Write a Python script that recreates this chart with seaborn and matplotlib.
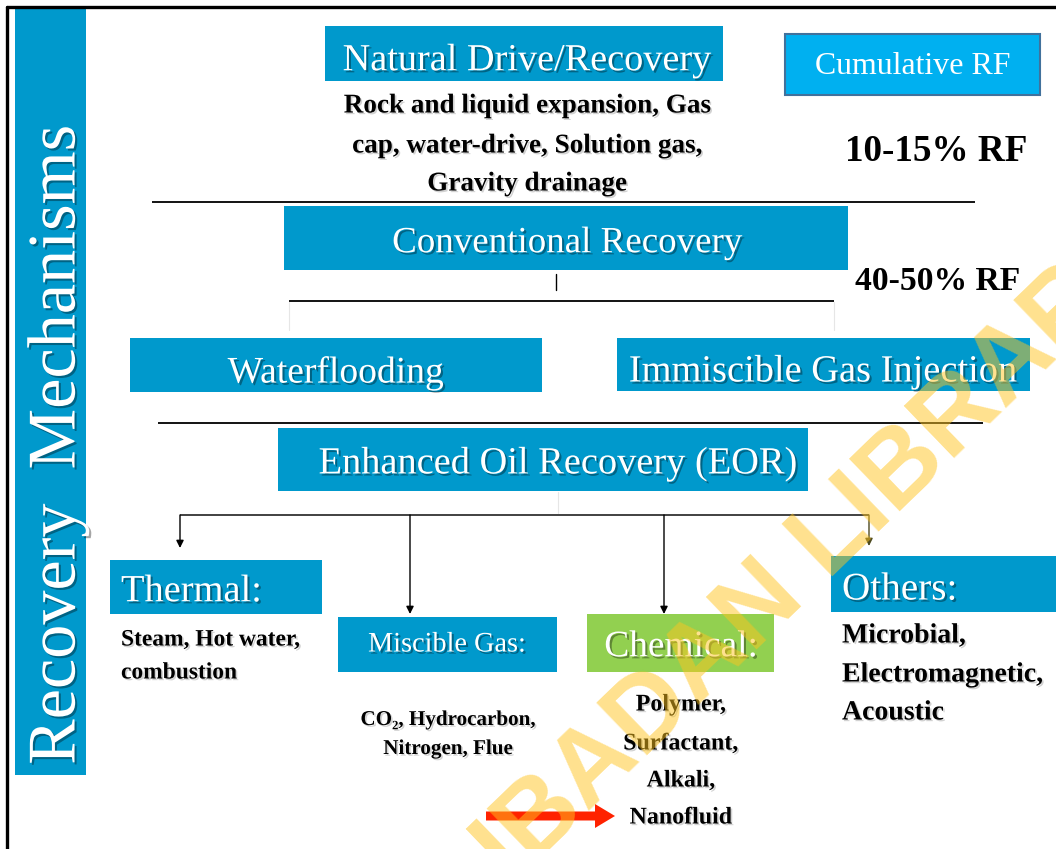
import matplotlib
matplotlib.use("Agg")
import matplotlib.pyplot as plt
import matplotlib.patheffects as pe
from matplotlib.patches import Rectangle, FancyArrow
import seaborn as sns

# text content of the diagram
side_title = "Recovery  Mechanisms"
stage_titles = ["Natural Drive/Recovery", "Conventional Recovery", "Enhanced Oil Recovery (EOR)"]
natural_mechanisms = ["Rock and liquid expansion, Gas", "cap, water-drive, Solution gas,", "Gravity drainage"]
rf_header = "Cumulative RF"
rf_values = ["10-15% RF", "40-50% RF"]
conventional_methods = ["Waterflooding", "Immiscible Gas Injection"]
eor_methods = ["Thermal:", "Miscible Gas:", "Chemical:", "Others:"]
eor_examples = [
    ["Steam, Hot water,", "combustion"],
    ["CO\u2082, Hydrocarbon,", "Nitrogen, Flue"],
    ["Polymer,", "Surfactant,", "Alkali,", "Nanofluid"],
    ["Microbial,", "Electromagnetic,", "Acoustic"],
]
watermark = "IBADAN LIBRARY"

sns.set_theme(style="white")
plt.rcParams['font.family'] = ['Liberation Serif', 'DejaVu Serif']

BLUE = '#0099CC'
GREEN = '#92D050'
SERIF = ['Liberation Serif', 'DejaVu Serif']

fig = plt.figure(figsize=(10.56, 8.49), dpi=100)
ax = fig.add_axes([0, 0, 1, 1])
ax.set_xlim(0, 1056)
ax.set_ylim(849, 0)
ax.axis('off')
renderer = fig.canvas.get_renderer()

white_fx = [pe.SimplePatchShadow(offset=(1.5, -1.5), shadow_rgbFace='black', alpha=0.35), pe.Normal()]
black_fx = [pe.SimplePatchShadow(offset=(1.2, -1.2), shadow_rgbFace='grey', alpha=0.35), pe.Normal()]


def box(x0, y0, x1, y1, fc=BLUE, ec='none', lw=0):
    ax.add_patch(Rectangle((x0, y0), x1 - x0, y1 - y0, facecolor=fc, edgecolor=ec, lw=lw, zorder=1))


def fit(t, width, vertical=False):
    bb = t.get_window_extent(renderer)
    size = bb.height if vertical else bb.width
    t.set_fontsize(t.get_fontsize() * width / size)
    return t.get_fontsize()


def label(s, x, y, width=None, size=None, color='white', bold=False, ha='center', rot=0, fx=None):
    dy = 0 if rot == 90 else 3
    t = ax.text(x, y + dy, s, ha=ha, va='center', color=color, family=SERIF,
                fontweight='bold' if bold else 'normal', fontsize=size or 20, rotation=rot,
                path_effects=fx if fx is not None else (white_fx if color == 'white' else black_fx),
                zorder=3)
    if width is not None:
        fit(t, width, vertical=(rot == 90))
    return t


def hline(x0, x1, y, color='black', lw=1.3):
    ax.plot([x0, x1], [y, y], color=color, lw=lw, zorder=2, solid_capstyle='butt')


def arrow(x, y0, y1, color='black'):
    ax.annotate('', xy=(x, y1), xytext=(x, y0),
                arrowprops=dict(arrowstyle='-|>', color=color, lw=1.0, mutation_scale=11,
                                shrinkA=0, shrinkB=0), zorder=2)


# page frame (top and left only visible)
ax.plot([7, 1056], [7, 7], color='black', lw=2.4, zorder=5)
ax.plot([7, 7], [7, 849], color='black', lw=2.4, zorder=5)

# side bar
box(15, 8, 86, 775)
label(side_title, 58, 445, width=640, rot=90)

# natural drive
box(325, 26, 723, 81)
label(stage_titles[0], 527, 58, width=369)
fs = None
for i, line in enumerate(natural_mechanisms):
    t = label(line, 527, [103, 143, 181][i], color='black', bold=True, size=fs)
    if fs is None:
        fs = fit(t, 367)

# cumulative RF header and values
box(785, 34, 1040, 95, fc='#00B0F0', ec='#41719C', lw=1.5)
label(rf_header, 913, 63, width=196, fx=[])
label(rf_values[0], 936, 148, width=182, color='black', bold=True, fx=[])
label(rf_values[1], 938, 278, width=165, color='black', bold=True, fx=[])

hline(152, 975, 202)

# conventional recovery
box(284, 206, 848, 270)
label(stage_titles[1], 567, 240, width=350)
ax.plot([556, 556], [274, 290], color='black', lw=1.0, zorder=2)
hline(289, 834, 301)
ax.plot([289, 289], [302, 330], color='#e6e6e6', lw=0.8)
ax.plot([834, 834], [302, 330], color='#e6e6e6', lw=0.8)

box(130, 338, 542, 392)
label(conventional_methods[0], 336, 370, width=216)
box(617, 338, 1030, 391)
label(conventional_methods[1], 823, 369, width=389)

hline(158, 983, 423)

# enhanced oil recovery
box(278, 428, 808, 491)
label(stage_titles[2], 558, 461, width=479)
ax.plot([558, 558], [492, 513], color='#e6e6e6', lw=0.8)
hline(180, 869, 515, color='#333333')

arrow(180, 515, 548)
arrow(410, 515, 614)
arrow(664, 515, 614)
arrow(869, 515, 546, color='#4d4a1f')

# EOR categories
box(110, 560, 322, 614)
label(eor_methods[0], 121, 589, width=141, ha='left')
box(338, 617, 557, 672)
label(eor_methods[1], 447, 642, width=158)
box(587, 614, 774, 672, fc=GREEN)
label(eor_methods[2], 681, 644, width=154)
box(831, 556, 1056, 612)
label(eor_methods[3], 842, 587, width=115, ha='left')

# examples under each EOR category
groups = [
    dict(x=121, ys=[637, 670], ha='left', ref=0, w=179),
    dict(x=448, ys=[717, 746], ha='center', ref=0, w=175),
    dict(x=681, ys=[702, 741, 778, 815], ha='center', ref=1, w=115),
    dict(x=842, ys=[633, 672, 710], ha='left', ref=1, w=201),
]
for lines, g in zip(eor_examples, groups):
    texts = [label(s, g['x'], y, color='black', bold=True, ha=g['ha']) for s, y in zip(lines, g['ys'])]
    fs = fit(texts[g['ref']], g['w'])
    for t in texts:
        t.set_fontsize(fs)

# red pointer to Nanofluid
ax.add_patch(FancyArrow(486, 816, 129, 0, width=9, head_width=24, head_length=20,
                        length_includes_head=True, color='#FF2200', lw=0, zorder=3))

# watermark
ax.text(818, 552, watermark, ha='center', va='center', rotation=44,
        family=['Liberation Sans', 'DejaVu Sans'], fontweight='bold', fontsize=76,
        color='#FFC41F', alpha=0.5, zorder=6)

fig.savefig('out.png', dpi=100)
